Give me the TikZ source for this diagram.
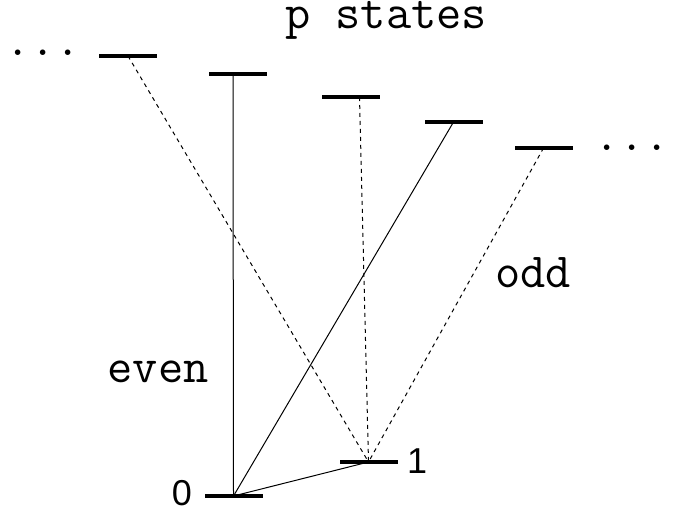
\documentclass[tikz,border=0pt]{standalone}
\usepackage{fontspec}
\newfontfamily\digitfont{Liberation Sans}
\usetikzlibrary{calc}

\begin{document}
\begin{tikzpicture}[
  x=0.5pt, y=-0.5pt,
  statebar/.style={fill=black, inner sep=0pt, minimum width=29pt, minimum height=1.8pt},
  evenline/.style={line width=0.5pt},
  oddline/.style={line width=0.5pt, dash pattern=on 2pt off 2pt},
  lab/.style={font=\fontsize{24.5}{28}\ttfamily, anchor=base, inner sep=0pt},
  num/.style={font=\fontsize{18}{20}\digitfont, anchor=base, inner sep=0pt}
]
  \useasboundingbox (0,0) rectangle (688,513);
  % s states
  \node[statebar] (s0) at (233.5,496) {};
  \node[statebar] (s1) at (368.5,462) {};
  \node[num] (n0) at (182,505) {0};
  \node[num] (n1) at (417,473) {1};
  % p states
  \node[statebar] (p1) at (128,56) {};
  \node[statebar] (p2) at (238,74) {};
  \node[statebar] (p3) at (350.5,97) {};
  \node[statebar] (p4) at (453.5,122) {};
  \node[statebar] (p5) at (543.5,148) {};
  \node[lab] (title) at (386,29) {p states};
  \node[lab] (dl) at (43,56) {...};
  \node[lab] (dr) at (632,150) {...};
  % transitions
  \draw[oddline] (p1.center) -- (s1.center);
  \draw[evenline] ([xshift=-2.5pt]p2.center) -- (s0.center);
  \draw[oddline] ([xshift=4.5pt]p3.center) -- (s1.center);
  \draw[evenline] (p4.center) -- (s0.center);
  \draw[oddline] (p5.center) -- (s1.center);
  \draw[evenline] (s0.center) -- (s1.center);
  \node[lab] (ev) at (158,382) {even};
  \node[lab] (od) at (533,287) {odd};
\end{tikzpicture}
\end{document}
